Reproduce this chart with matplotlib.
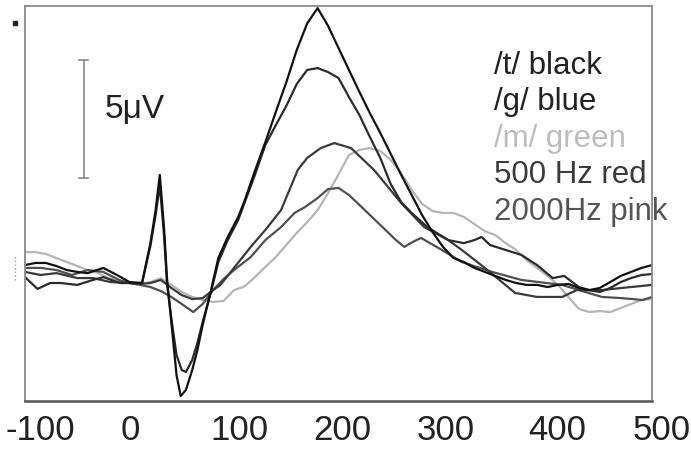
import matplotlib
matplotlib.use("Agg")
import matplotlib.pyplot as plt
from matplotlib.transforms import ScaledTranslation

plt.rcParams['font.family'] = ['Liberation Sans', 'DejaVu Sans']

## Data (time in ms, amplitude in microvolts)
t_t = [-100, -90, -80, -70, -60, -50, -40, -25, -12, 0, 12, 20, 25, 29, 33, 36, 40, 45, 49, 54,
       60, 65, 70, 78, 85, 94, 104, 110, 120, 130, 140, 150, 160, 170, 180, 190, 200, 210, 220,
       230, 240, 250, 260, 270, 280, 290, 300, 310, 320, 330, 340, 350, 360, 370, 380, 390, 400,
       410, 420, 430, 440, 450, 460, 470, 480, 490, 500]
v_t = [0.76, 0.85, 0.85, 0.72, 0.55, 0.47, 0.42, 0.64, 0.34, 0.04, 0.0, 1.69, 3.09, 4.58, 2.37,
       0.13, -1.65, -3.9, -4.79, -4.53, -3.69, -2.84, -1.78, -0.3, 1.06, 1.95, 2.8, 3.47, 4.75,
       5.97, 7.25, 8.5, 9.87, 11.0, 11.65, 10.9, 9.96, 9.03, 8.1, 7.2, 6.36, 5.47, 4.58, 3.73,
       2.88, 2.16, 1.53, 1.06, 0.89, 0.64, 0.47, 0.30, 0.13, 0.0, -0.08, -0.08, -0.17, -0.08,
       -0.04, -0.21, -0.3, -0.21, 0.04, 0.30, 0.47, 0.64, 0.76]

t_g = [-100, -88, -76, -66, -50, -35, -25, -9, 0, 12, 20, 25, 29, 33, 36, 40, 45, 50, 54, 60,
       65, 70, 78, 85, 94, 104, 110, 120, 130, 140, 150, 160, 170, 180, 190, 200, 210, 220, 230,
       240, 250, 260, 270, 285, 305, 320, 330, 337, 345, 360, 375, 390, 405, 416, 430, 440, 450,
       460, 470, 480, 490, 500]
v_g = [0.25, -0.25, 0.0, 0.0, -0.08, 0.13, 0.25, 0.0, 0.0, 0.0, 1.57, 2.88, 4.15, 2.03, -0.08,
       -1.48, -3.05, -3.69, -3.77, -3.26, -2.54, -1.65, -0.38, 0.89, 1.82, 2.67, 3.39, 4.58, 5.85,
       6.69, 7.5, 8.43, 9.03, 9.11, 8.94, 8.69, 7.88, 7.12, 6.19, 5.3, 4.19, 3.43, 2.97, 2.37,
       1.82, 1.69, 1.82, 1.95, 1.61, 1.40, 1.19, 0.76, 0.21, 0.30, -0.17, -0.30, -0.38, -0.21,
       0.04, 0.21, 0.34, 0.38]

t_m = [-100, -90, -80, -70, -60, -50, -40, -30, -20, -10, 0, 10, 20, 30, 40, 50, 60, 70, 80, 90,
       100, 110, 120, 130, 140, 150, 160, 170, 180, 190, 200, 210, 220, 230, 240, 250, 260, 270,
       280, 290, 300, 310, 320, 330, 340, 350, 360, 370, 380, 390, 400, 410, 420, 430, 440, 450,
       460, 470, 480, 490, 500]
v_m = [1.31, 1.31, 1.23, 1.06, 0.89, 0.72, 0.55, 0.42, 0.21, 0.08, 0.0, -0.04, 0.04, 0.21, -0.08,
       -0.38, -0.59, -0.72, -0.8, -0.76, -0.3, -0.15, 0.25, 0.68, 1.10, 1.61, 2.12, 2.58, 3.09,
       3.81, 4.6, 5.42, 5.64, 5.72, 5.6, 5.21, 4.66, 3.94, 3.35, 3.05, 2.97, 2.97, 2.80, 2.5, 2.2,
       2.03, 1.69, 1.40, 0.97, 0.64, 0.30, -0.08, -0.59, -1.10, -1.23, -1.19, -1.23, -1.06, -0.89,
       -0.72, -0.68]

t_500 = [-100, -85, -70, -50, -35, -18, 0, 10, 20, 30, 40, 50, 60, 70, 80, 87, 100, 116, 130,
         145, 155, 161, 170, 183, 196, 212, 234, 260, 282, 305, 318, 340, 369, 390, 414, 428,
         452, 471, 500]
v_500 = [0.47, 0.34, 0.42, 0.21, 0.21, 0.04, 0.0, -0.04, 0.0, 0.13, -0.21, -0.51, -0.68, -0.64,
         -0.3, -0.08, 0.64, 1.53, 2.25, 3.09, 4.15, 4.79, 5.3, 5.72, 5.93, 5.72, 4.79, 3.39, 2.37,
         1.82, 1.4, 0.64, -0.42, -0.59, -0.59, -0.3, -0.3, -0.21, -0.08]

t_2000 = [-100, -85, -70, -55, -40, -25, -10, 0, 10, 20, 30, 40, 50, 61, 70, 80, 90, 100, 116,
          130, 145, 158, 168, 180, 190, 200, 210, 220, 240, 255, 263, 271, 279, 299, 318, 347,
          375, 414, 452, 471, 491, 500]
v_2000 = [0.64, 0.64, 0.55, 0.34, 0.55, 0.47, 0.13, 0.0, -0.08, -0.17, -0.34, -0.59, -0.89,
          -1.23, -0.89, -0.3, 0.17, 0.55, 1.1, 1.82, 2.37, 2.97, 3.22, 3.6, 3.98, 4.03, 3.73,
          3.31, 2.46, 1.82, 1.53, 1.74, 1.91, 1.4, 0.89, 0.47, 0.13, -0.08, -0.59, -0.64, -0.72,
          -0.59]

labels = ["/t/ black", "/g/ blue", "/m/ green", "500 Hz red", "2000Hz pink"]
tick_pos = [-100, 0, 100, 200, 300, 400, 500]
tick_labels = ["-100", "0", "100", "200", "300", "400", "500"]

## Figure
fig = plt.figure(figsize=(6.91, 4.53), dpi=100)
ax = fig.add_axes([25 / 691, 1 - 401 / 453, 627 / 691, 395 / 453])

ax.plot(t_m, v_m, color="#b5b5b5", lw=1.6)
ax.plot(t_2000, v_2000, color="#505050", lw=1.6)
ax.plot(t_500, v_500, color="#3a3a3a", lw=1.6)
ax.plot(t_g, v_g, color="#2b2b2b", lw=1.6)
ax.plot(t_t, v_t, color="#111111", lw=1.6)

ax.set_xlim(-100, 500)
ax.set_ylim(-5.0, 11.74)

# scale bar 5 uV
ax.plot([-44, -44], [4.45, 9.45], color="#8a8a8a", lw=1.2)
ax.plot([-48.5, -39.5], [9.45, 9.45], color="#8a8a8a", lw=1.2)
ax.plot([-48.5, -39.5], [4.45, 4.45], color="#8a8a8a", lw=1.2)
ax.text(-24, 7.0, "5\u03bcV", fontsize=24, color="#222222", va="baseline", ha="left")

# label list at upper right
text_colors = ["#222222", "#222222", "#bdbdbd", "#3a3a3a", "#555555"]
for i, lab in enumerate(labels):
    ax.text(348.5, 8.86 - i * 1.545, lab, fontsize=22.5, color=text_colors[i],
            va="baseline", ha="left", clip_on=False)

# stray marks on the left edge
ax.plot([-109.4], [11.02], marker="s", ms=2.2, color="#222222", clip_on=False)
ax.plot([-109.4, -109.4], [0.13, 1.19], ls=":", lw=1.0, color="#999999", clip_on=False)

ax.set_yticks([])
ax.set_xticks(tick_pos, tick_labels)
ax.tick_params(axis="x", length=0, pad=9, labelsize=25, labelcolor="#222222")
nudges = [15, 1, 5, 4, 3, 10, 10]
for lbl, dx in zip(ax.get_xticklabels(), nudges):
    lbl.set_transform(lbl.get_transform() + ScaledTranslation(dx / 100, 0, fig.dpi_scale_trans))

for side in ["left", "right", "top"]:
    ax.spines[side].set_color("#8a8a8a")
    ax.spines[side].set_linewidth(1.3)
ax.spines["bottom"].set_color("#555555")
ax.spines["bottom"].set_linewidth(1.8)

fig.savefig("out.png", dpi=100)
